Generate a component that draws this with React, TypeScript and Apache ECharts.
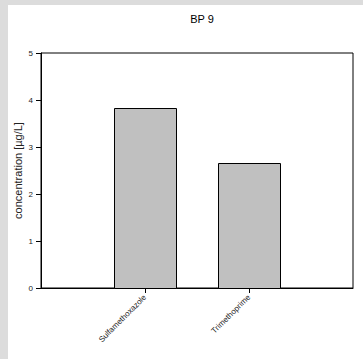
import React, { useEffect, useRef } from "react";
import * as echarts from "echarts";

const titleText = "BP 9";
const yAxisName = "concentration [µg/L]";
const categories = ["Sulfamethoxazole", "Trimethoprime"];
const concentrations = [3.84, 2.65];
const yMin = 0;
const yMax = 5;
const yInterval = 1;

export default function App() {
  const ref = useRef<HTMLDivElement>(null);
  useEffect(() => {
    document.body.style.margin = "5px 0 0 8px";
    document.body.style.background = "#dcdcdc";
    const chart = echarts.init(ref.current!, null, { renderer: "svg" });
    const paddedCats = ["", ...categories, ""];
    const barData = concentrations.map((v, i) => [i + 1, v]);
    const font = "Liberation Sans, Arial";
    const barWidth = 62;
    chart.setOption({
      animation: false,
      backgroundColor: "#ffffff",
      title: {
        text: titleText,
        left: 189,
        top: 3,
        textAlign: "center",
        textStyle: { fontFamily: font, fontSize: 11, fontWeight: "normal", color: "#000" },
      },
      grid: {
        left: 33,
        right: 10,
        top: 48,
        bottom: 71,
        containLabel: false,
        outerBoundsMode: "none",
        show: true,
        borderColor: "#000",
        borderWidth: 1,
        backgroundColor: "#fff",
      },
      xAxis: {
        type: "category",
        data: paddedCats,
        boundaryGap: false,
        axisLine: { lineStyle: { color: "#000", width: 1 } },
        axisTick: {
          length: 5,
          lineStyle: { color: "#000" },
          interval: (i: number) => i > 0 && i < paddedCats.length - 1,
        },
        axisLabel: {
          rotate: 45,
          interval: 0,
          margin: 8,
          fontSize: 8,
          fontFamily: font,
          color: "#222",
        },
        splitLine: { show: false },
      },
      yAxis: {
        type: "value",
        min: yMin,
        max: yMax,
        interval: yInterval,
        name: yAxisName,
        nameLocation: "middle",
        nameGap: 18,
        nameMoveOverlap: false,
        nameTextStyle: { fontFamily: font, fontSize: 11, color: "#222" },
        axisLine: { show: true, lineStyle: { color: "#000", width: 1 } },
        axisTick: { show: true, length: 5, lineStyle: { color: "#000" } },
        axisLabel: { fontSize: 8, margin: 8, fontFamily: font, color: "#222" },
        splitLine: { show: false },
      },
      series: [
        {
          type: "custom",
          data: barData,
          encode: { x: 0, y: 1 },
          z: 3,
          renderItem: (_params: any, api: any) => {
            const idx = api.value(0);
            const top = api.coord([idx, api.value(1)]);
            const base = api.coord([idx, 0]);
            const x = Math.round(top[0] - barWidth / 2) + 0.5;
            const y = Math.round(top[1]) + 0.5;
            const h = Math.round(base[1]) + 0.5 - y;
            return {
              type: "rect",
              shape: { x, y, width: barWidth, height: h },
              style: { fill: "#c0c0c0", stroke: "#000", lineWidth: 1 },
            };
          },
        },
      ],
    });
    return () => chart.dispose();
  }, []);
  return <div ref={ref} style={{ width: 355, height: 354, background: "#fff" }} />;
}
